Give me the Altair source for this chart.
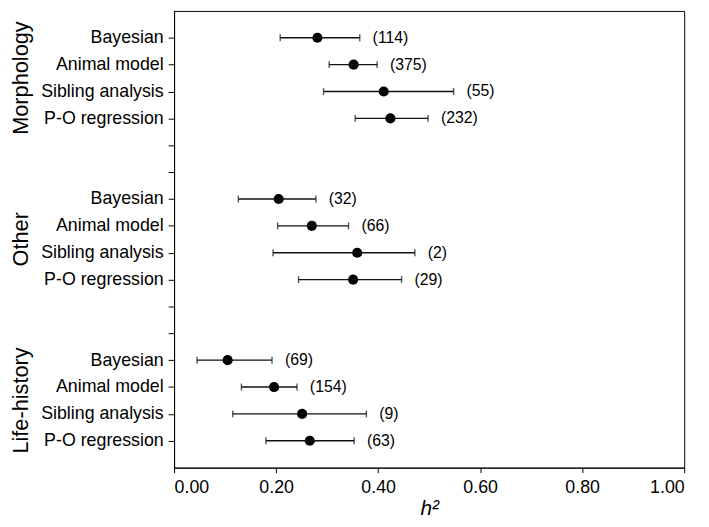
import altair as alt
import pandas as pd

methods = ["Bayesian", "Animal model", "Sibling analysis", "P-O regression"]
groups = ["Morphology", "Other", "Life-history"]
group_rows = [2.5, 8.5, 14.5]
rows = [1, 2, 3, 4, 7, 8, 9, 10, 13, 14, 15, 16]
h2 = [0.281, 0.352, 0.411, 0.424, 0.205, 0.270, 0.359, 0.351, 0.105, 0.196, 0.251, 0.266]
lo = [0.208, 0.304, 0.293, 0.355, 0.126, 0.203, 0.194, 0.244, 0.045, 0.132, 0.115, 0.180]
hi = [0.364, 0.398, 0.548, 0.498, 0.278, 0.342, 0.472, 0.446, 0.192, 0.241, 0.377, 0.353]
counts = ["114", "375", "55", "232", "32", "66", "2", "29", "69", "154", "9", "63"]
x_ticks = [0.0, 0.2, 0.4, 0.6, 0.8, 1.0]

df = pd.DataFrame({
    "row": rows,
    "method": methods * 3,
    "h2": h2,
    "lo": lo,
    "hi": hi,
    "label": ["(" + c + ")" for c in counts],
})
gdf = pd.DataFrame({"group": groups, "row": group_rows})

row_names = [""] * 18
for r, m in zip(rows, methods * 3):
    row_names[r] = m
label_expr = "[" + ",".join("'" + s + "'" for s in row_names) + "][datum.value]"

FONT = "Liberation Sans"

y_scale = alt.Scale(domain=[0, 17], reverse=True, nice=False, zero=False)
x_scale = alt.Scale(domain=[0, 1], nice=False)

y_axis = alt.Axis(
    values=list(range(1, 17)), labelExpr=label_expr, title=None, labelOverlap=False,
    grid=False, tickSize=6, labelPadding=5, labelFontSize=18, labelBound=False,
    labelFont=FONT, labelColor="black", domainColor="black", tickColor="black")

x_axis = alt.Axis(
    values=x_ticks, format=".2f", title="h²", titleFontStyle="italic",
    titleFontWeight="normal", titleFontSize=21, titleFont=FONT, titlePadding=1,
    grid=False, tickSize=5, labelPadding=6, labelFontSize=18, labelFont=FONT,
    labelColor="black", domainColor="black", tickColor="black", titleColor="black",
    labelOverlap=False)


def X(f):
    return alt.X(f, scale=x_scale, axis=x_axis, title="h²")


def Y(f):
    return alt.Y(f, scale=y_scale, axis=y_axis, title=None)


base = alt.Chart(df)

bars = base.mark_rule(color="#111", strokeWidth=1.4).encode(
    x=X("lo:Q"), x2="hi:Q", y=Y("row:Q"))
cap_lo = base.mark_tick(color="#111", orient="vertical", size=7, thickness=1.4).encode(
    x=X("lo:Q"), y=Y("row:Q"))
cap_hi = base.mark_tick(color="#111", orient="vertical", size=7, thickness=1.4).encode(
    x=X("hi:Q"), y=Y("row:Q"))
dots = base.mark_circle(color="black", size=105, opacity=1).encode(
    x=X("h2:Q"), y=Y("row:Q"))
labels = base.mark_text(align="left", baseline="middle", dx=13, fontSize=16,
                        font=FONT, color="black").encode(
    x=X("hi:Q"), y=Y("row:Q"), text="label:N")
glabels = alt.Chart(gdf).mark_text(angle=270, align="center", baseline="middle",
                                   fontSize=22, font=FONT, color="black").encode(
    x=alt.value(-155), y=Y("row:Q"), text="group:N")

chart = alt.layer(dots, bars, cap_lo, cap_hi, labels, glabels).properties(
    width=516, height=462,
    autosize=alt.AutoSizeParams(type="none"),
    padding={"left": 168, "top": 0, "right": 17, "bottom": 49},
).configure(background="white").configure_view(stroke="black", strokeWidth=1)

chart.save("out.html", embed_options={"renderer": "svg", "actions": False})
